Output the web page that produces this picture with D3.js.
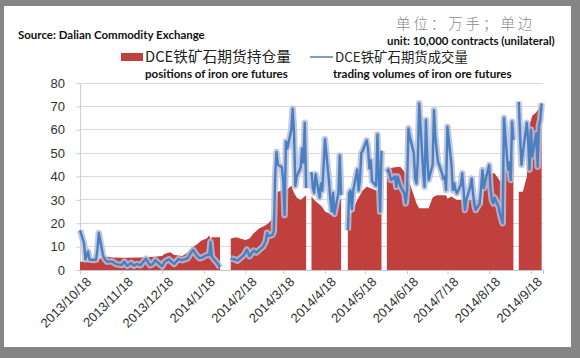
<!DOCTYPE html>
<html><head><meta charset="utf-8">
<script src="https://cdn.jsdelivr.net/npm/d3@7"></script>
<style>html,body{margin:0;padding:0;background:#fff;}svg{display:block;}</style>
</head><body>
<svg id="chart" width="580" height="358"></svg>
<script>
// ---------------- DATA ----------------
const xTickLabels = ["2013/10/18","2013/11/18","2013/12/18","2014/1/18","2014/2/18","2014/3/18",
  "2014/4/18","2014/5/18","2014/6/18","2014/7/18","2014/8/18","2014/9/18"];
const yTicks = [0,10,20,30,40,50,60,70,80];
// holiday breaks (no trading) -> gaps in both series
const gapDates = ["2014-02-03","2014-04-07","2014-05-02","2014-06-02","2014-09-08"];
// DCE iron ore futures open interest (positions), 10,000 contracts
const positions = [
 ["2013-10-18",3.5],["2013-10-31",3.7],["2013-11-01",4.5],["2013-11-04",6],["2013-11-06",5.8],
 ["2013-11-11",5.3],["2013-11-20",5.2],["2013-12-02",5.3],["2013-12-10",5.6],["2013-12-18",6],
 ["2013-12-20",7],["2013-12-24",7.6],["2013-12-27",6.4],["2014-01-02",6],["2014-01-06",7.5],
 ["2014-01-09",9.5],["2014-01-13",11],["2014-01-16",12.5],["2014-01-20",13.5],["2014-01-22",14.8],
 ["2014-01-23",13],["2014-01-24",14],["2014-01-30",14],
 ["2014-02-07",13.5],["2014-02-11",14],["2014-02-14",13.5],["2014-02-18",12.8],["2014-02-21",13.5],
 ["2014-02-24",15.7],["2014-02-28",17.8],["2014-03-04",18.8],["2014-03-07",20],["2014-03-10",22],
 ["2014-03-11",24.2],["2014-03-12",24],["2014-03-13",33],["2014-03-14",33.5],["2014-03-17",34],
 ["2014-03-21",34.5],["2014-03-24",36],["2014-03-26",33],["2014-03-28",31],["2014-03-31",30],
 ["2014-04-02",31],["2014-04-04",32],
 ["2014-04-08",31.5],["2014-04-10",30],["2014-04-14",28],["2014-04-16",27],["2014-04-18",25],
 ["2014-04-22",24],["2014-04-24",23],["2014-04-25",24],["2014-04-28",28],["2014-04-29",30],["2014-04-30",30.5],
 ["2014-05-05",20],["2014-05-07",24],["2014-05-09",26],["2014-05-12",30],["2014-05-14",32],
 ["2014-05-16",34],["2014-05-19",35.6],["2014-05-22",35],["2014-05-26",34],["2014-05-28",33.5],["2014-05-30",33],
 ["2014-06-03",43.5],["2014-06-05",43.5],["2014-06-09",44],["2014-06-13",44.2],["2014-06-16",42],
 ["2014-06-18",39.2],["2014-06-20",37],["2014-06-23",32],["2014-06-25",28.5],["2014-06-27",26.4],
 ["2014-07-04",26.4],["2014-07-07",31],["2014-07-10",32],["2014-07-17",32],["2014-07-18",30.5],
 ["2014-07-21",31.4],["2014-07-25",30],["2014-08-11",30],["2014-08-12",28.5],["2014-08-13",28],
 ["2014-08-14",41],["2014-08-22",41.4],["2014-08-25",39],["2014-08-26",38],["2014-08-27",38],
 ["2014-08-28",40],["2014-08-29",42],["2014-09-01",44],["2014-09-02",45],["2014-09-03",46.5],
 ["2014-09-04",48],["2014-09-05",48.5],
 ["2014-09-09",33.5],["2014-09-12",33.5],["2014-09-15",40],["2014-09-16",57],["2014-09-17",62],
 ["2014-09-18",64],["2014-09-19",66],["2014-09-22",67.5],["2014-09-23",68.5],["2014-09-24",69.5],
 ["2014-09-25",70.5],["2014-09-26",72]
];
// DCE iron ore futures trading volume, 10,000 contracts
const volumes = [
 ["2013-10-18",17],["2013-10-21",11.5],["2013-10-22",4.5],["2013-10-24",8],["2013-10-25",4.5],
 ["2013-10-28",4.3],["2013-10-30",4.5],["2013-10-31",9],["2013-11-01",15.8],["2013-11-04",6.5],
 ["2013-11-05",5],["2013-11-07",3.6],["2013-11-11",3.6],["2013-11-14",2.5],["2013-11-18",2.1],
 ["2013-11-20",3.6],["2013-11-22",1.8],["2013-11-25",3],["2013-11-27",1.8],["2013-11-29",2.6],
 ["2013-12-02",2],["2013-12-04",3.5],["2013-12-06",4.8],["2013-12-09",2],["2013-12-11",2.5],
 ["2013-12-13",4.2],["2013-12-16",2.6],["2013-12-18",1.6],["2013-12-20",3.6],["2013-12-23",4.6],
 ["2013-12-25",3.6],["2013-12-27",2.6],["2013-12-30",4.6],["2014-01-02",4.2],["2014-01-06",5],
 ["2014-01-08",7],["2014-01-10",8.6],["2014-01-13",6],["2014-01-15",5],["2014-01-17",5.4],
 ["2014-01-20",6.4],["2014-01-22",6.4],["2014-01-23",12],["2014-01-24",5.7],["2014-01-27",3.6],
 ["2014-01-29",2.1],["2014-01-30",1.1],
 ["2014-02-07",5],["2014-02-10",4.5],["2014-02-12",4],["2014-02-14",5],["2014-02-17",6.6],
 ["2014-02-19",8.7],["2014-02-21",5.9],["2014-02-24",8.3],["2014-02-26",7.5],["2014-02-28",8.5],
 ["2014-03-03",10],["2014-03-05",12.3],["2014-03-06",15.9],["2014-03-07",14.5],["2014-03-10",15],
 ["2014-03-11",16.6],["2014-03-12",40],["2014-03-13",50.5],["2014-03-14",45],["2014-03-17",44],
 ["2014-03-18",38],["2014-03-19",23.5],["2014-03-20",55],["2014-03-21",52],["2014-03-24",60],
 ["2014-03-25",69],["2014-03-26",59],["2014-03-27",36],["2014-03-28",40],["2014-03-31",44],
 ["2014-04-01",52],["2014-04-02",46],["2014-04-03",63],["2014-04-04",35],
 ["2014-04-08",42],["2014-04-09",35],["2014-04-10",33],["2014-04-11",41],["2014-04-14",31],
 ["2014-04-15",37],["2014-04-16",34],["2014-04-17",45],["2014-04-18",56],["2014-04-21",38],
 ["2014-04-22",30],["2014-04-23",25],["2014-04-24",33],["2014-04-25",24],["2014-04-28",33],
 ["2014-04-29",49],["2014-04-30",32],
 ["2014-05-05",17],["2014-05-06",33],["2014-05-07",34],["2014-05-08",26],["2014-05-09",34],
 ["2014-05-12",43],["2014-05-13",34],["2014-05-14",38.5],["2014-05-15",50],["2014-05-16",51],
 ["2014-05-19",55.5],["2014-05-20",52],["2014-05-21",43.5],["2014-05-22",47],["2014-05-23",38],
 ["2014-05-26",36],["2014-05-27",58],["2014-05-28",40],["2014-05-29",25],["2014-05-30",51],
 ["2014-06-03",42],["2014-06-04",43],["2014-06-05",41],["2014-06-06",38.5],["2014-06-09",40],
 ["2014-06-10",35.6],["2014-06-11",40],["2014-06-12",38],["2014-06-13",36],["2014-06-16",32.8],
 ["2014-06-17",28.5],["2014-06-18",34.2],["2014-06-19",60.6],["2014-06-20",57],["2014-06-23",50],
 ["2014-06-24",39.2],["2014-06-25",37],["2014-06-26",47],["2014-06-27",71.3],["2014-06-30",42],
 ["2014-07-01",35.6],["2014-07-02",64.2],["2014-07-03",48.5],["2014-07-04",38.5],["2014-07-07",45],
 ["2014-07-08",68.4],["2014-07-09",57],["2014-07-10",51.3],["2014-07-11",46.3],["2014-07-14",41.4],
 ["2014-07-15",39],["2014-07-16",40],["2014-07-17",34.2],["2014-07-18",61.3],["2014-07-21",45],
 ["2014-07-22",34.2],["2014-07-23",37.1],["2014-07-24",34.2],["2014-07-25",32.8],["2014-07-28",36.4],
 ["2014-07-29",41.4],["2014-07-30",34],["2014-07-31",25.7],["2014-08-01",30],["2014-08-04",35.6],
 ["2014-08-05",39.2],["2014-08-06",32.8],["2014-08-07",28],["2014-08-08",25.7],["2014-08-11",28.5],
 ["2014-08-12",35],["2014-08-13",42.8],["2014-08-14",35],["2014-08-15",38],["2014-08-18",44.9],
 ["2014-08-19",35],["2014-08-20",30],["2014-08-21",28.5],["2014-08-22",31],["2014-08-25",27],
 ["2014-08-26",24.2],["2014-08-27",22],["2014-08-28",20],["2014-08-29",65],["2014-09-01",43],
 ["2014-09-02",46],["2014-09-03",38.5],["2014-09-04",63.4],["2014-09-05",55.6],
 ["2014-09-09",72],["2014-09-10",57],["2014-09-11",45],["2014-09-12",50],["2014-09-15",63],
 ["2014-09-16",55],["2014-09-17",43],["2014-09-18",60],["2014-09-19",48.5],["2014-09-22",58.5],
 ["2014-09-23",44.2],["2014-09-24",62],["2014-09-25",64.2],["2014-09-26",71.3]
];
const seriesNames = ["DCE铁矿石期货持仓量","DCE铁矿石期货成交量"];
const seriesNamesEn = ["positions of iron ore futures","trading volumes of iron ore futures"];
const sourceText = "Source: Dalian Commodity Exchange";
const unitCn = "单位：万手；单边";
const unitEn = "unit: 10,000 contracts (unilateral)";

// ---------------- CHART ----------------
const parse = d3.timeParse("%Y-%m-%d");
const parseTick = d3.timeParse("%Y/%m/%d");
function withGaps(arr){
  const pts = arr.map(d=>({date:parse(d[0]), v:d[1]}));
  gapDates.forEach(g=>pts.push({date:parse(g), v:null}));
  return pts.sort((a,b)=>a.date-b.date);
}
const posData = withGaps(positions);
const volData = withGaps(volumes);

const svg = d3.select("#chart");
const W=580,H=358;
// frame
svg.append("rect").attr("width",W).attr("height",H).attr("fill","#858585");
svg.append("rect").attr("x",4).attr("y",6).attr("width",567).attr("height",341).attr("fill","#ffffff");

const x = d3.scaleTime().domain([parse("2013-10-18"), parse("2014-09-27")]).range([80,543]);
const y = d3.scaleLinear().domain([0,80]).range([270,83]);

// gridlines
svg.append("g").selectAll("line").data(yTicks.filter(t=>t>0)).join("line")
  .attr("x1",80).attr("x2",543).attr("y1",d=>y(d)).attr("y2",d=>y(d))
  .attr("stroke","#d9d9d9").attr("stroke-width",1).attr("shape-rendering","crispEdges");

// y axis
const yAxis = d3.axisLeft(y).tickValues(yTicks).tickSize(4).tickPadding(11).tickFormat(d3.format("d"));
const gy = svg.append("g").attr("transform","translate(80,0)").call(yAxis);
gy.select(".domain").attr("stroke","#d0d0d0");
gy.selectAll(".tick line").attr("stroke","#d0d0d0");
gy.selectAll("text").attr("font-family","'Liberation Sans', Arial, sans-serif").attr("font-size",13).attr("fill","#333");

// area (positions)
const area = d3.area().defined(d=>d.v!=null).x(d=>x(d.date)).y0(y(0)).y1(d=>y(d.v));
svg.append("path").datum(posData).attr("d",area).attr("fill","#c0403d");

// line (volumes) with glow
const line = d3.line().defined(d=>d.v!=null).x(d=>x(d.date)).y(d=>y(d.v));
svg.append("path").datum(volData).attr("d",line).attr("fill","none")
  .attr("stroke","#b8c0da").attr("stroke-opacity",0.85).attr("stroke-width",6.5).attr("stroke-linejoin","round");
svg.append("path").datum(volData).attr("d",line).attr("fill","none")
  .attr("stroke","#4a7fc0").attr("stroke-width",2.4).attr("stroke-linejoin","round");

// x axis
const xTicks = xTickLabels.map(parseTick);
const xAxis = d3.axisBottom(x).tickValues(xTicks).tickSize(4).tickFormat(d=>xTickLabels[xTicks.indexOf(d)]);
const gx = svg.append("g").attr("transform","translate(0,270)").call(xAxis);
gx.select(".domain").attr("stroke","#c8c8c8");
gx.selectAll(".tick line").attr("stroke","#c8c8c8");
gx.selectAll("text").attr("font-family","'Liberation Sans', Arial, sans-serif").attr("font-size",13)
  .attr("fill","#333").attr("text-anchor","end")
  .attr("transform","translate(6,7) rotate(-45)").attr("dy","0.6em").attr("y",0).attr("x",0);

// helper to fit text width
function fit(t, w){ const n=t.node(); const L=n.getComputedTextLength(); const fs=parseFloat(t.attr("font-size")); t.attr("font-size", fs*w/L); return t; }

const enFont = "Lato, 'Open Sans', sans-serif";
fit(svg.append("text").attr("x",18).attr("y",39).attr("font-family",enFont).attr("font-weight",700)
  .attr("font-size",12).attr("fill","#111").text(sourceText), 187);
fit(svg.append("text").attr("x",387).attr("y",45).attr("font-family",enFont).attr("font-weight",700)
  .attr("font-size",12).attr("fill","#111").text(unitEn), 168);
fit(svg.append("text").attr("x",396).attr("y",29).attr("font-family","'Noto Sans CJK SC', sans-serif").attr("font-weight",300)
  .attr("font-size",14).attr("fill","#8a8a8a").attr("letter-spacing",3).text(unitCn), 140);

// legend
svg.append("rect").attr("x",121).attr("y",53).attr("width",22).attr("height",8).attr("fill","#c0403d");
fit(svg.append("text").attr("x",145).attr("y",62).attr("font-family","'Noto Sans CJK SC', sans-serif")
  .attr("font-size",14).attr("fill","#222").text(seriesNames[0]), 146);
svg.append("line").attr("x1",310).attr("x2",333).attr("y1",57).attr("y2",57).attr("stroke","#4a7fc0").attr("stroke-width",1.5);
fit(svg.append("text").attr("x",335).attr("y",62).attr("font-family","'Noto Sans CJK SC', sans-serif")
  .attr("font-size",14).attr("fill","#222").text(seriesNames[1]), 133);
fit(svg.append("text").attr("x",145).attr("y",78).attr("font-family",enFont).attr("font-weight",700)
  .attr("font-size",12).attr("fill","#111").text(seriesNamesEn[0]), 143);
fit(svg.append("text").attr("x",333).attr("y",78).attr("font-family",enFont).attr("font-weight",700)
  .attr("font-size",12).attr("fill","#111").text(seriesNamesEn[1]), 179);
</script>
</body></html>
